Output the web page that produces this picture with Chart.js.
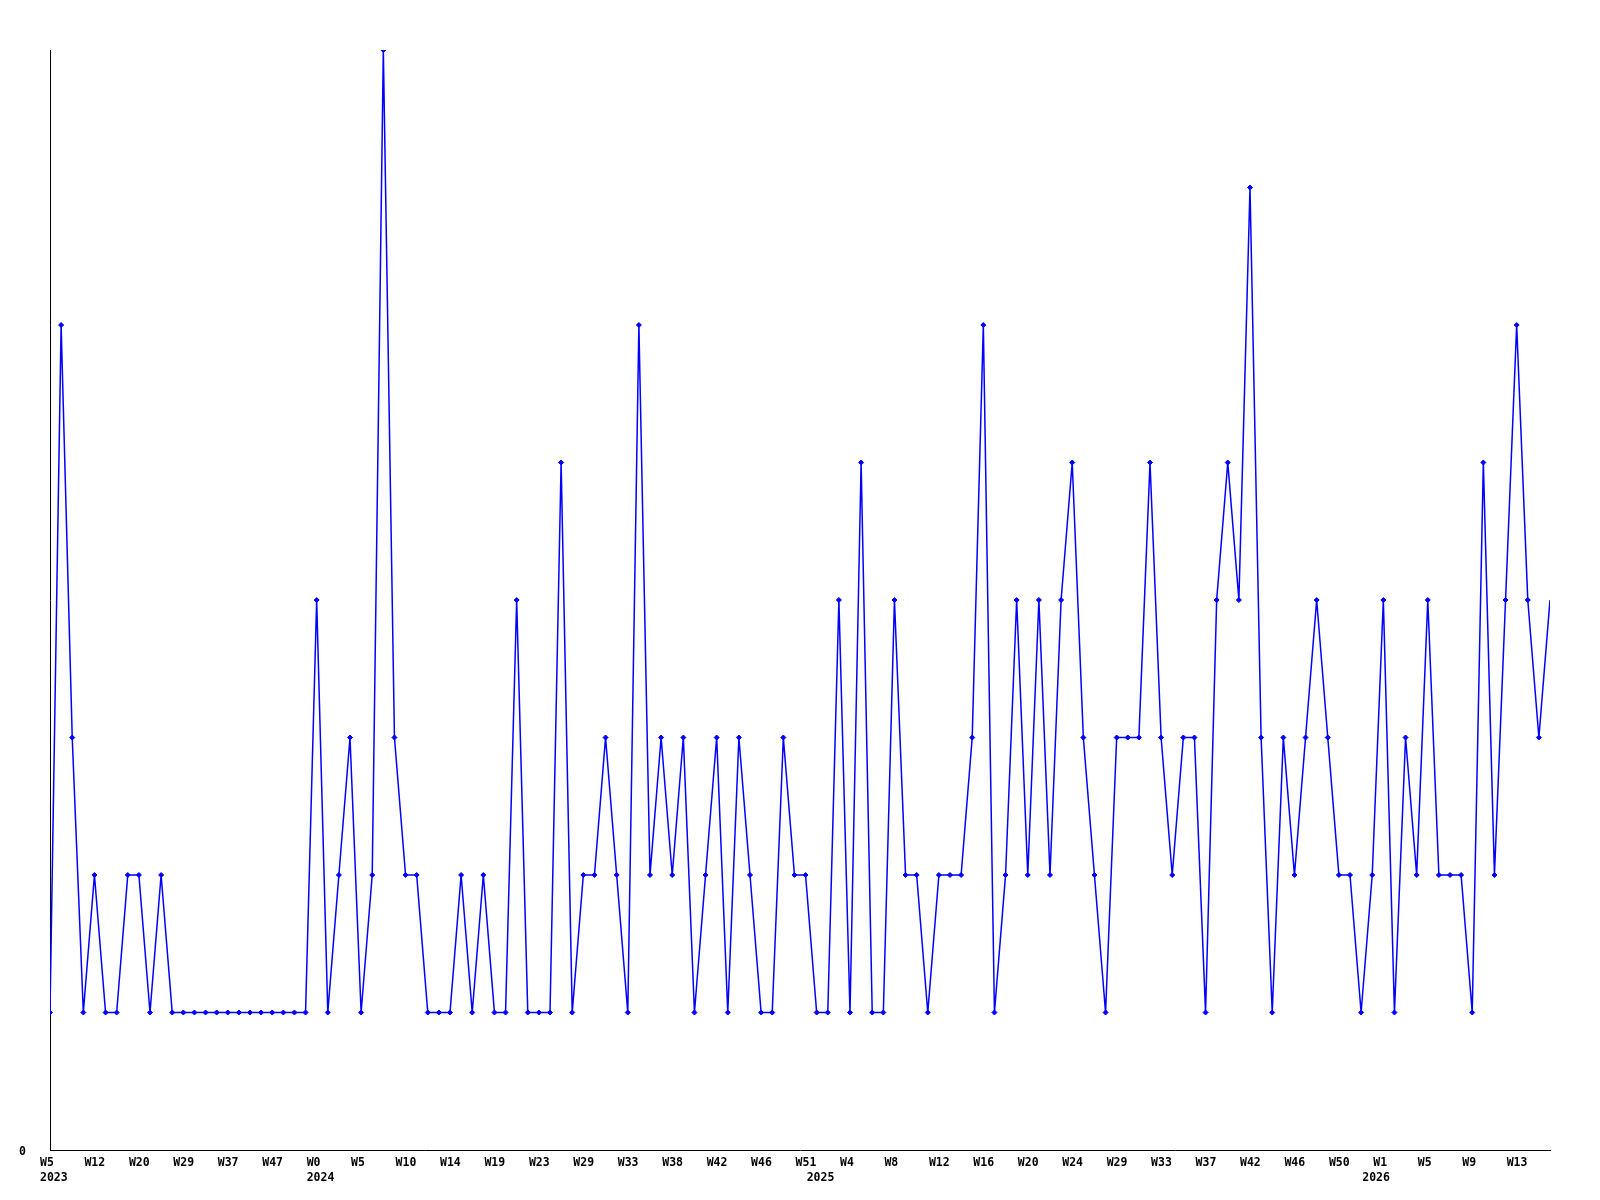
<!DOCTYPE html>
<html>
<head>
<meta charset="utf-8">
<script src="https://cdn.jsdelivr.net/npm/chart.js@4.4.1/dist/chart.umd.min.js"></script>
<style>
  html, body { margin: 0; padding: 0; background: #fff; }
  #wrap { width: 1600px; height: 1200px; }
</style>
</head>
<body>
<div id="wrap"><canvas id="myChart" width="1600" height="1200"></canvas></div>
<script>
// one value per entry
const values = [
    1, 6, 3, 1, 2, 1, 1, 2, 2, 1, 2, 1,
    1, 1, 1, 1, 1, 1, 1, 1, 1, 1, 1, 1,
    4, 1, 2, 3, 1, 2, 8, 3, 2, 2, 1, 1,
    1, 2, 1, 2, 1, 1, 4, 1, 1, 1, 5, 1,
    2, 2, 3, 2, 1, 6, 2, 3, 2, 3, 1, 2,
    3, 1, 3, 2, 1, 1, 3, 2, 2, 1, 1, 4,
    1, 5, 1, 1, 4, 2, 2, 1, 2, 2, 2, 3,
    6, 1, 2, 4, 2, 4, 2, 4, 5, 3, 2, 1,
    3, 3, 3, 5, 3, 2, 3, 3, 1, 4, 5, 4,
    7, 3, 1, 3, 2, 3, 4, 3, 2, 2, 1, 2,
    4, 1, 3, 2, 4, 2, 2, 2, 1, 5, 2, 4,
    6, 4, 3, 4
];

// week label shown on every 4th entry
const weekLabels = ['W5', 'W12', 'W20', 'W29', 'W37', 'W47', 'W0', 'W5', 'W10', 'W14',
    'W19', 'W23', 'W29', 'W33', 'W38', 'W42', 'W46', 'W51', 'W4', 'W8',
    'W12', 'W16', 'W20', 'W24', 'W29', 'W33', 'W37', 'W42', 'W46', 'W50',
    'W1', 'W5', 'W9', 'W13'];
const labelEvery = 4;

// year label under the first entry of each year
const yearLabels = ['2023', '2024', '2025', '2026'];
const yearStarts = [0, 24, 69, 119];

const yTicks = [0];

function plotChart() {
    const ctx = document.getElementById('myChart');
    const font = { family: '"DejaVu Sans Mono", "Liberation Mono", monospace', size: 11.5, weight: 'bold', lineHeight: 1.25 };
    const last = values.length - 1;

    new Chart(ctx, {
        type: 'line',
        data: {
            datasets: [{
                data: values.map((v, i) => ({ x: i, y: v })),
                borderColor: '#0000ff',
                backgroundColor: '#0000ff',
                borderWidth: 1.5,
                tension: 0,
                pointStyle: 'rectRot',
                pointRadius: c => c.dataIndex === last ? 0 : 2.5,
                pointBorderWidth: 1,
                fill: false
            }]
        },
        options: {
            responsive: false,
            animation: false,
            events: [],
            layout: { padding: { top: 50, right: 50, left: 0, bottom: 0 } },
            plugins: { legend: { display: false }, tooltip: { enabled: false } },
            scales: {
                x: {
                    type: 'linear',
                    min: 0,
                    max: last,
                    grid: { display: false, drawTicks: false },
                    border: { display: true, color: '#000', width: 1 },
                    afterBuildTicks: scale => {
                        const set = new Set(yearStarts);
                        weekLabels.forEach((w, k) => set.add(k * labelEvery));
                        scale.ticks = [...set].sort((a, b) => a - b).map(v => ({ value: v }));
                    },
                    afterFit: scale => { scale.height = 50; },
                    ticks: {
                        autoSkip: false,
                        maxRotation: 0,
                        align: 'start',
                        labelOffset: -10,
                        padding: 6,
                        color: '#000',
                        font: font,
                        callback: v => {
                            const week = v % labelEvery === 0 ? (weekLabels[v / labelEvery] || '') : '';
                            const y = yearStarts.indexOf(v);
                            return y >= 0 ? [week, yearLabels[y]] : week;
                        }
                    }
                },
                y: {
                    min: 0,
                    max: 8,
                    grid: { display: false, drawTicks: false },
                    border: { display: true, color: '#000', width: 1 },
                    afterBuildTicks: scale => { scale.ticks = yTicks.map(v => ({ value: v })); },
                    afterFit: scale => { scale.width = 50; },
                    ticks: {
                        padding: 24,
                        labelOffset: 2,
                        color: '#000',
                        font: font,
                        callback: v => String(v)
                    }
                }
            }
        }
    });
}

plotChart();
</script>
</body>
</html>
